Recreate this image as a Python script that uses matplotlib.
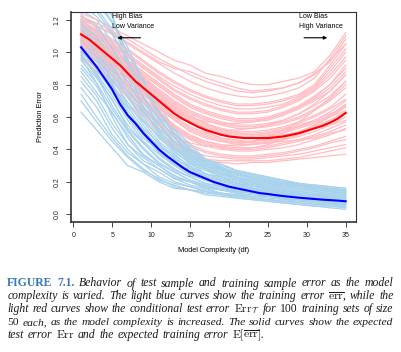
import numpy as np
import matplotlib
matplotlib.use("Agg")
import matplotlib.pyplot as plt

plt.rcParams['font.family'] = ['Liberation Sans', 'DejaVu Sans']
plt.rcParams['mathtext.fontset'] = 'cm'

# -------------------- data --------------------
df = np.arange(1, 36)
# expected test error Err and expected training error E[err]
err_test_mean = [1.11, 1.08, 1.04, 1.00, 0.96, 0.92, 0.87, 0.82, 0.78, 0.74,
                 0.70, 0.66, 0.62, 0.59, 0.565, 0.54, 0.52, 0.505, 0.49, 0.48,
                 0.475, 0.47, 0.47, 0.47, 0.47, 0.475, 0.48, 0.49, 0.50, 0.515,
                 0.53, 0.545, 0.565, 0.59, 0.625]
err_train_mean = [1.03, 0.97, 0.91, 0.84, 0.77, 0.68, 0.61, 0.56, 0.50, 0.45,
                  0.40, 0.36, 0.325, 0.29, 0.26, 0.24, 0.22, 0.20, 0.185, 0.17,
                  0.16, 0.15, 0.14, 0.13, 0.125, 0.118, 0.112, 0.107, 0.102, 0.098,
                  0.094, 0.09, 0.087, 0.084, 0.08]

# individual training sets (error x 100), read at df = 1,3,...,35
df_sets = np.arange(1, 36, 2)
train_sets = [
    [63, 52, 41, 30, 26, 20, 16, 15, 12, 11, 10, 9, 8, 7, 6, 5, 4, 3],
    [70, 57, 45, 35, 27, 22, 17, 15, 14, 12, 11, 10, 9, 8, 7, 6, 5, 4],
    [78, 66, 49, 38, 31, 23, 19, 17, 14, 13, 11, 10, 9, 8, 7, 6, 6, 5],
    [85, 73, 56, 43, 35, 28, 22, 18, 16, 13, 12, 11, 10, 9, 8, 7, 6, 6],
    [88, 75, 63, 47, 36, 30, 23, 20, 16, 15, 13, 11, 11, 9, 9, 8, 7, 6],
    [92, 81, 65, 51, 40, 31, 26, 21, 18, 15, 14, 13, 11, 10, 9, 8, 8, 7],
    [95, 84, 71, 53, 44, 34, 27, 23, 19, 17, 14, 13, 12, 11, 10, 9, 8, 7],
    [98, 87, 73, 58, 45, 37, 30, 24, 21, 17, 16, 13, 12, 11, 10, 10, 9, 8],
    [100, 91, 75, 61, 49, 38, 31, 26, 21, 19, 16, 15, 13, 12, 11, 10, 9, 8],
    [103, 92, 79, 62, 52, 41, 33, 27, 23, 19, 17, 15, 14, 12, 11, 10, 10, 9],
    [106, 96, 80, 66, 53, 44, 34, 29, 23, 21, 18, 16, 14, 13, 12, 11, 10, 9],
    [108, 98, 85, 67, 57, 45, 37, 29, 25, 21, 19, 16, 15, 13, 12, 11, 11, 10],
    [110, 101, 86, 72, 58, 48, 38, 32, 25, 23, 19, 18, 15, 14, 13, 12, 11, 10],
    [112, 103, 90, 74, 62, 49, 41, 32, 28, 23, 21, 18, 17, 15, 13, 12, 12, 11],
    [115, 107, 92, 78, 63, 52, 41, 34, 28, 25, 21, 19, 17, 15, 14, 13, 12, 11],
    [118, 108, 96, 80, 67, 53, 44, 35, 30, 25, 23, 20, 18, 16, 15, 14, 13, 12],
    [120, 113, 99, 84, 69, 56, 45, 37, 30, 27, 23, 21, 19, 18, 16, 15, 14, 13],
    [123, 115, 103, 87, 73, 58, 48, 38, 32, 27, 25, 22, 20, 18, 17, 16, 15, 14],
    [126, 120, 106, 92, 76, 62, 49, 40, 32, 29, 25, 23, 21, 19, 18, 17, 16, 14],
    [130, 122, 111, 95, 81, 64, 52, 40, 34, 29, 26, 24, 22, 20, 19, 17, 16, 15],
    [135, 127, 114, 99, 83, 67, 53, 43, 34, 31, 27, 25, 23, 21, 19, 18, 17, 16],
    [140, 131, 118, 100, 79, 60, 47, 37, 32, 28, 26, 24, 22, 20, 18, 17, 16, 15],
    [96, 81, 60, 43, 33, 28, 22, 20, 17, 15, 14, 13, 12, 10, 9, 8, 7, 6],
    [119, 102, 81, 62, 49, 38, 31, 25, 21, 18, 16, 14, 13, 11, 10, 9, 8, 7],
    [145, 138, 122, 96, 72, 55, 43, 35, 30, 27, 24, 22, 20, 19, 18, 16, 15, 14],
    [128, 126, 124, 90, 66, 50, 40, 33, 28, 25, 22, 20, 18, 17, 16, 15, 14, 13],
    [74, 60, 47, 36, 28, 21, 18, 15, 13, 12, 10, 9, 8, 7, 6, 5, 5, 4],
    [82, 70, 53, 40, 31, 26, 20, 17, 15, 13, 12, 10, 9, 8, 8, 7, 6, 5],
    [90, 79, 62, 49, 37, 30, 24, 20, 17, 15, 13, 12, 11, 10, 9, 8, 7, 6],
    [97, 86, 70, 55, 44, 35, 28, 23, 19, 17, 15, 14, 12, 11, 10, 9, 9, 8],
    [101, 89, 76, 60, 47, 39, 32, 26, 22, 19, 17, 15, 14, 13, 12, 11, 10, 9],
    [104, 94, 81, 64, 51, 42, 35, 28, 24, 20, 18, 16, 15, 13, 12, 11, 10, 10],
    [107, 97, 83, 69, 55, 43, 36, 30, 25, 22, 19, 17, 16, 14, 13, 12, 11, 10],
    [111, 100, 88, 72, 60, 47, 39, 31, 27, 23, 20, 18, 16, 15, 14, 13, 12, 11],
    [114, 105, 91, 76, 64, 51, 42, 34, 29, 24, 22, 19, 18, 16, 15, 14, 13, 12],
    [117, 110, 95, 82, 66, 55, 45, 36, 30, 26, 23, 21, 19, 17, 16, 15, 14, 13],
    [122, 117, 102, 86, 72, 59, 47, 38, 31, 28, 25, 22, 20, 19, 17, 16, 15, 14],
    [132, 125, 112, 94, 78, 63, 50, 41, 34, 30, 27, 25, 23, 21, 19, 18, 17, 16],
    [138, 133, 119, 103, 82, 63, 50, 39, 33, 28, 25, 23, 21, 19, 18, 17, 16, 15],
    [99, 85, 67, 52, 41, 32, 26, 21, 18, 16, 14, 13, 12, 11, 10, 9, 8, 7],
]
test_sets = [
    [96, 88, 79, 69, 58, 48, 40, 35, 33, 32, 31, 32, 32, 33, 34, 35, 36, 37],
    [100, 92, 83, 73, 63, 53, 45, 39, 36, 35, 34, 34, 35, 36, 37, 39, 41, 43],
    [102, 95, 86, 76, 66, 57, 49, 43, 39, 37, 36, 36, 37, 38, 40, 42, 45, 48],
    [104, 97, 89, 79, 69, 60, 52, 46, 42, 40, 39, 39, 40, 41, 43, 46, 49, 53],
    [106, 99, 91, 82, 72, 63, 55, 49, 45, 42, 41, 41, 42, 44, 46, 49, 53, 57],
    [107, 100, 92, 84, 75, 66, 58, 52, 48, 45, 43, 43, 44, 46, 48, 51, 55, 60],
    [108, 101, 94, 86, 77, 68, 60, 54, 50, 47, 45, 45, 46, 48, 50, 54, 58, 63],
    [109, 102, 95, 87, 79, 70, 62, 56, 52, 49, 47, 47, 48, 50, 53, 56, 60, 66],
    [110, 104, 97, 89, 80, 72, 64, 58, 54, 51, 49, 49, 50, 52, 55, 58, 63, 70],
    [111, 105, 98, 90, 82, 74, 66, 60, 56, 53, 51, 51, 52, 54, 57, 61, 66, 74],
    [112, 106, 99, 91, 83, 75, 68, 62, 58, 55, 53, 53, 54, 56, 59, 64, 70, 78],
    [113, 107, 100, 93, 85, 77, 70, 64, 60, 57, 55, 55, 56, 58, 62, 67, 73, 82],
    [114, 108, 101, 94, 86, 79, 72, 66, 62, 59, 57, 57, 58, 61, 65, 70, 76, 86],
    [115, 109, 103, 95, 88, 81, 74, 68, 64, 61, 59, 59, 60, 63, 67, 73, 80, 90],
    [116, 110, 104, 97, 90, 83, 76, 71, 67, 64, 62, 62, 63, 66, 70, 76, 84, 95],
    [117, 112, 106, 99, 92, 85, 79, 74, 70, 67, 65, 65, 66, 68, 72, 78, 88, 100],
    [119, 114, 108, 102, 95, 88, 82, 77, 73, 70, 68, 68, 69, 71, 74, 80, 92, 105],
    [121, 116, 111, 105, 99, 93, 87, 82, 78, 75, 73, 72, 73, 75, 78, 84, 96, 110],
    [124, 120, 115, 110, 105, 100, 95, 92, 87, 85, 82, 80, 80, 82, 84, 88, 98, 112],
    [108, 100, 90, 78, 66, 56, 48, 44, 42, 42, 43, 45, 48, 52, 57, 64, 72, 82],
    [112, 106, 98, 88, 76, 64, 54, 47, 43, 41, 40, 41, 43, 46, 50, 55, 61, 68],
    [105, 99, 92, 85, 78, 71, 64, 58, 53, 50, 48, 47, 48, 49, 51, 53, 55, 58],
    [118, 112, 104, 94, 84, 74, 66, 60, 57, 56, 56, 57, 59, 62, 66, 72, 80, 92],
    [103, 96, 88, 80, 71, 62, 54, 48, 45, 43, 42, 43, 44, 47, 50, 54, 58, 63],
    [120, 116, 112, 106, 100, 94, 90, 88, 84, 81, 78, 76, 77, 78, 81, 86, 95, 105],
    [110, 103, 93, 85, 80, 69, 60, 57, 51, 47, 46, 44, 44, 45, 46, 47, 50, 52],
    [98, 90, 82, 72, 61, 51, 43, 37, 34, 33, 33, 33, 33, 34, 35, 37, 39, 41],
    [101, 94, 85, 75, 65, 55, 47, 42, 38, 36, 35, 35, 36, 37, 39, 41, 44, 46],
    [105, 98, 90, 80, 70, 61, 53, 47, 44, 41, 40, 40, 41, 43, 45, 48, 51, 55],
    [107, 101, 93, 85, 76, 67, 59, 53, 49, 46, 44, 44, 45, 47, 49, 53, 57, 62],
    [110, 103, 96, 88, 79, 71, 63, 57, 53, 50, 48, 48, 49, 51, 54, 57, 61, 67],
    [111, 105, 97, 90, 81, 73, 65, 59, 55, 52, 50, 50, 51, 53, 56, 60, 65, 71],
    [113, 107, 100, 92, 84, 76, 69, 63, 59, 56, 54, 54, 55, 57, 60, 65, 71, 80],
    [114, 109, 102, 95, 87, 80, 73, 67, 63, 60, 58, 58, 59, 62, 66, 71, 78, 88],
    [116, 111, 105, 98, 91, 84, 77, 72, 68, 65, 63, 63, 64, 67, 71, 77, 86, 97],
    [118, 113, 107, 101, 94, 87, 81, 76, 72, 69, 67, 67, 68, 70, 73, 79, 90, 102],
    [122, 118, 113, 108, 102, 96, 91, 86, 82, 79, 76, 75, 76, 78, 81, 87, 94, 108],
    [109, 103, 95, 87, 80, 74, 67, 61, 56, 52, 50, 49, 50, 52, 54, 58, 62, 66],
    [106, 100, 93, 84, 74, 65, 58, 51, 47, 45, 44, 45, 46, 48, 51, 55, 60, 64],
    [112, 104, 96, 86, 78, 69, 62, 56, 53, 52, 52, 53, 55, 58, 62, 68, 76, 86],
]

caption_lines = [
    "FIGURE 7.1. Behavior of test sample and training sample error as the model",
    r"complexity is varied. The light blue curves show the training error $\overline{\mathrm{err}}$, while the",
    r"light red curves show the conditional test error $\mathrm{Err}_{\mathcal{T}}$ for 100 training sets of size",
    "50 each, as the model complexity is increased. The solid curves show the expected",
    r"test error $\mathrm{Err}$ and the expected training error $\mathrm{E}[\overline{\mathrm{err}}]$.",
]
caption_baselines = [286.5, 299.4, 312.3, 325.2, 338.1]

# -------------------- figure --------------------
W, H = 401, 352
fig = plt.figure(figsize=(W / 100, H / 100), dpi=100)
ax = fig.add_axes([70.5 / W, 1 - 222 / H, (356.2 - 70.5) / W, (222 - 12) / H])

light_blue = '#a8d2ec'
light_red = '#ffbcc2'
for tr, te in zip(train_sets, test_sets):
    ax.plot(df_sets, np.array(tr) / 100, color=light_blue, lw=0.9, zorder=2)
    ax.plot(df_sets, np.array(te) / 100, color=light_red, lw=0.9, zorder=2)

ax.plot(df, err_train_mean, color='#0000ff', lw=1.5, zorder=3)
ax.plot(df, err_test_mean, color='#ff0000', lw=1.5, zorder=3)

ax.set_xlim(-0.36, 36.36)
ax.set_ylim(-0.048, 1.248)
ax.set_xticks(range(0, 36, 5))
ax.set_yticks([0.0, 0.2, 0.4, 0.6, 0.8, 1.0, 1.2])
ax.set_yticklabels(['0.0', '0.2', '0.4', '0.6', '0.8', '1.0', '1.2'])
ax.tick_params(direction='out', length=3.6, width=0.6, labelsize=5, pad=3.5, colors='#222222')
plt.setp(ax.get_yticklabels(), rotation=90, va='center')
for s in ax.spines.values():
    s.set_linewidth(0.8)
    s.set_color('#333333')
ax.spines['left'].set_linewidth(1.2)
ax.spines['bottom'].set_linewidth(1.2)

ax.set_xlabel('Model Complexity (df)', fontsize=5.3, labelpad=6)
ax.set_ylabel('Prediction Error', fontsize=5.3, labelpad=7)

ax.text(5.0, 1.218, 'High Bias', fontsize=5, va='center', ha='left')
ax.text(5.0, 1.157, 'Low Variance', fontsize=5, va='center', ha='left')
ax.annotate('', xy=(5.3, 1.089), xytext=(9.0, 1.089),
            arrowprops=dict(arrowstyle='-|>', lw=0.8, color='black', mutation_scale=5))
ax.text(29.0, 1.218, 'Low Bias', fontsize=5, va='center', ha='left')
ax.text(29.0, 1.157, 'High Variance', fontsize=5, va='center', ha='left')
ax.annotate('', xy=(33.0, 1.089), xytext=(29.3, 1.089),
            arrowprops=dict(arrowstyle='-|>', lw=0.8, color='black', mutation_scale=5))

# -------------------- caption (justified) --------------------
renderer = fig.canvas.get_renderer()
cap_left, cap_right = 7.3, 393.3
word_gap = 3.6


def word_style(i, j, w):
    if i == 0 and j < 2:
        return dict(family='Liberation Serif', weight='bold', color='#3878b4')
    if w.isdigit():
        return dict(family='Liberation Serif', color='#1a1a1a')
    return dict(family='Liberation Serif', style='italic', color='#1a1a1a')


# font size per line so the words sit about word_gap apart (kept close to a common size)
base = 10.0
fits = []
for i, line in enumerate(caption_lines[:-1]):
    words = line.split(' ')
    tw = 0
    for j, w in enumerate(words):
        t = fig.text(0, 0, w, fontsize=base, **word_style(i, j, w))
        tw += t.get_window_extent(renderer).width
        t.remove()
    fits.append(base * (cap_right - cap_left - word_gap * (len(words) - 1)) / tw)
common = float(np.mean(fits))
sizes = [min(common, f) for f in fits] + [common]

for i, line in enumerate(caption_lines):
    words = line.split(' ')
    objs = [fig.text(0, 1 - caption_baselines[i] / H, w, fontsize=sizes[i], va='baseline',
                     **word_style(i, j, w)) for j, w in enumerate(words)]
    widths = [o.get_window_extent(renderer).width for o in objs]
    if i < len(caption_lines) - 1:
        gap = (cap_right - cap_left - sum(widths)) / (len(objs) - 1)
    else:
        gap = word_gap
    x = cap_left
    for o, wd in zip(objs, widths):
        o.set_x(x / W)
        x += wd + gap

fig.savefig('out.png', dpi=100)
